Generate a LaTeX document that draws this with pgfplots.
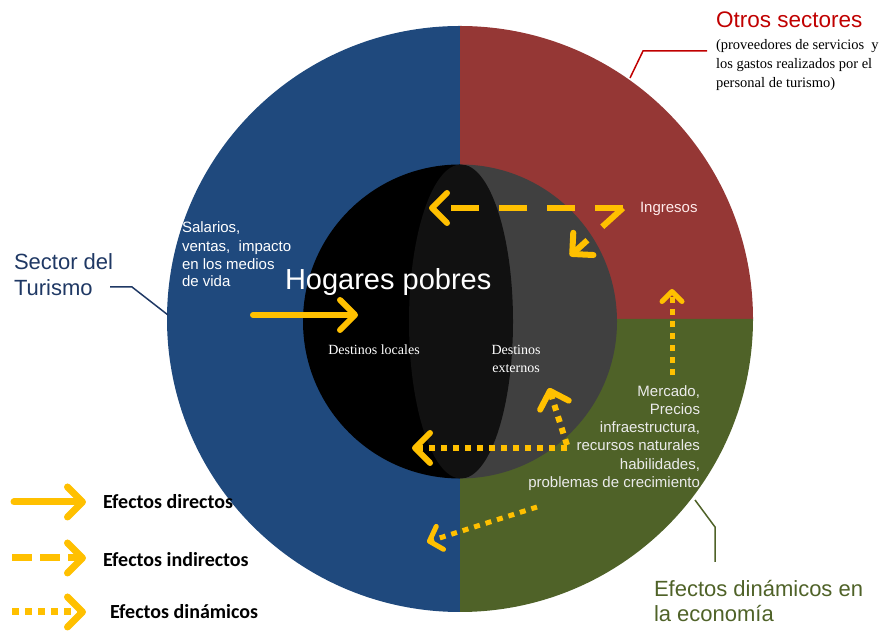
\documentclass[border=0pt]{standalone}
\usepackage{pgfplots}
\pgfplotsset{compat=1.18}
\usepackage{fontspec}
\setmainfont{Liberation Sans}
\newfontfamily\notefont{Liberation Serif}
\newfontfamily\legfont{Carlito}
\usetikzlibrary{arrows.meta}

\definecolor{secblue}{HTML}{1F497D}
\definecolor{secred}{HTML}{953735}
\definecolor{secgreen}{HTML}{4F6228}
\definecolor{fxyellow}{HTML}{FFC000}
\definecolor{innergrey}{HTML}{404040}
\definecolor{lensgrey}{HTML}{111111}
\definecolor{txtred}{HTML}{C00000}
\definecolor{txtblue}{HTML}{1F3864}

\tikzset{
  every node/.append style={inner sep=0pt, outer sep=0pt},
  fx/.style={fxyellow, line width=6pt, line cap=round,
    -{Straight Barb[length=15pt,width=30pt,line cap=round,line join=round]}},
  fxdash/.style={fx, line cap=butt, dash pattern=on 28pt off 20pt},
  fxdot/.style={fx, line cap=butt, dash pattern=on 6pt off 6pt},
}

\begin{document}
\begin{tikzpicture}
\begin{axis}[x=1pt, y=1pt, xmin=0, xmax=885, ymin=0, ymax=626,
    hide axis, clip=false]
% keep the page the size of the whole axis
\path (axis cs:0,0) rectangle (axis cs:885,626);

% outer ring: Turismo 50 %, Otros sectores 25 %, Efectos dinamicos 25 %
\fill[secblue] (axis cs:460,307) -- (axis cs:460,600)
  arc[start angle=90, end angle=270, radius=293pt] -- cycle;
\fill[secred] (axis cs:460,307) -- (axis cs:753,307)
  arc[start angle=0, end angle=90, radius=293pt] -- cycle;
\fill[secgreen] (axis cs:460,307) -- (axis cs:460,14)
  arc[start angle=-90, end angle=0, radius=293pt] -- cycle;

% inner circle
\fill[black] (axis cs:460,461.5) arc[start angle=90, end angle=270, radius=157pt] -- cycle;
\fill[innergrey] (axis cs:460,461.5) arc[start angle=90, end angle=-90, radius=157pt] -- cycle;
\fill[lensgrey] (axis cs:461,304.5) ellipse[x radius=52pt, y radius=157pt];

% leader lines
\addplot[txtred, line width=1.5pt, no markers] coordinates {(630,548) (643,575) (707,575)};
\addplot[txtblue, line width=1.5pt, no markers] coordinates {(110,339) (132,339) (168,311)};
\addplot[secgreen, line width=1.5pt, no markers] coordinates {(695,126) (715,99) (715,64)};

% labels
\node[anchor=base west, txtred, font=\fontsize{22.5}{26}\selectfont] at (axis cs:716,598) {Otros sectores};
\node[anchor=base west, font=\notefont\fontsize{14.5}{16}\selectfont] at (axis cs:716,576) {(proveedores de servicios\ \ y};
\node[anchor=base west, font=\notefont\fontsize{14.5}{16}\selectfont] at (axis cs:716,557) {los gastos realizados por el};
\node[anchor=base west, font=\notefont\fontsize{14.5}{16}\selectfont] at (axis cs:716,538) {personal de turismo)};

\node[anchor=base west, txtblue, font=\fontsize{22}{26}\selectfont] at (axis cs:14,356) {Sector del};
\node[anchor=base west, txtblue, font=\fontsize{22}{26}\selectfont] at (axis cs:14,330) {Turismo};

\node[anchor=base west, secgreen, font=\fontsize{22}{26}\selectfont] at (axis cs:654,29) {Efectos dinámicos\ en};
\node[anchor=base west, secgreen, font=\fontsize{22}{26}\selectfont] at (axis cs:654,4) {la economía};

\node[anchor=base west, white, font=\fontsize{29}{32}\selectfont] at (axis cs:285,336) {Hogares\ pobres};

\node[anchor=base west, white, font=\fontsize{15}{18}\selectfont] at (axis cs:182,393) {Salarios,};
\node[anchor=base west, white, font=\fontsize{15}{18}\selectfont] at (axis cs:182,374) {ventas,\ \ impacto};
\node[anchor=base west, white, font=\fontsize{15}{18}\selectfont] at (axis cs:182,356) {en los medios};
\node[anchor=base west, white, font=\fontsize{15}{18}\selectfont] at (axis cs:182,339) {de vida};

\node[anchor=base, white, font=\notefont\fontsize{14}{16}\selectfont] at (axis cs:374,271) {Destinos locales};
\node[anchor=base, white, font=\notefont\fontsize{14}{16}\selectfont] at (axis cs:516,271) {Destinos};
\node[anchor=base, white, font=\notefont\fontsize{14}{16}\selectfont] at (axis cs:516,253) {externos};

\node[anchor=base west, white!92!red, font=\fontsize{15}{18}\selectfont] at (axis cs:640,413) {Ingresos};

\node[anchor=base east, white!92!black, font=\fontsize{15}{18}\selectfont] at (axis cs:700,229) {Mercado,};
\node[anchor=base east, white!92!black, font=\fontsize{15}{18}\selectfont] at (axis cs:700,211) {Precios};
\node[anchor=base east, white!92!black, font=\fontsize{15}{18}\selectfont] at (axis cs:700,193) {infraestructura,};
\node[anchor=base east, white!92!black, font=\fontsize{15}{18}\selectfont] at (axis cs:700,175) {recursos naturales};
\node[anchor=base east, white!92!black, font=\fontsize{15}{18}\selectfont] at (axis cs:700,156) {habilidades,};
\node[anchor=base east, white!92!black, font=\fontsize{15}{18}\selectfont] at (axis cs:700,138) {problemas de crecimiento};

% effect arrows
\addplot[fx, no markers] coordinates {(253,311) (358,311)};
\addplot[fxdash, no markers] coordinates {(623,418) (429,418)};
\addplot[fxdash, no markers] coordinates {(623,418) (570,370)};
\addplot[fxdot, no markers, line width=5pt,
  -{Straight Barb[length=10pt,width=20pt,line cap=round,line join=round]}] coordinates {(672,251) (672,337)};
\addplot[fxdot, no markers] coordinates {(567,181) (549,238)};
\addplot[fxdot, no markers] coordinates {(567,178) (412,178)};
\addplot[fxdot, no markers, line width=5pt,
  -{Straight Barb[length=11pt,width=24pt,line cap=round,line join=round]}] coordinates {(537,119) (427,84)};

% legend
\addplot[fx, line width=7pt, no markers] coordinates {(14,124) (86,124)};
\addplot[fxdash, line width=7pt, dash pattern=on 20pt off 8pt, no markers] coordinates {(12,68) (86,68)};
\addplot[fxdot, line width=7pt, dash pattern=on 7pt off 6pt, no markers] coordinates {(12,14) (86,14)};
\node[anchor=west, font=\legfont\bfseries\fontsize{20}{22}\selectfont] at (axis cs:103,124) {Efectos directos};
\node[anchor=west, font=\legfont\bfseries\fontsize{20}{22}\selectfont] at (axis cs:103,66) {Efectos indirectos};
\node[anchor=west, font=\legfont\bfseries\fontsize{20}{22}\selectfont] at (axis cs:110,14) {Efectos dinámicos};
\end{axis}
\end{tikzpicture}
\end{document}
